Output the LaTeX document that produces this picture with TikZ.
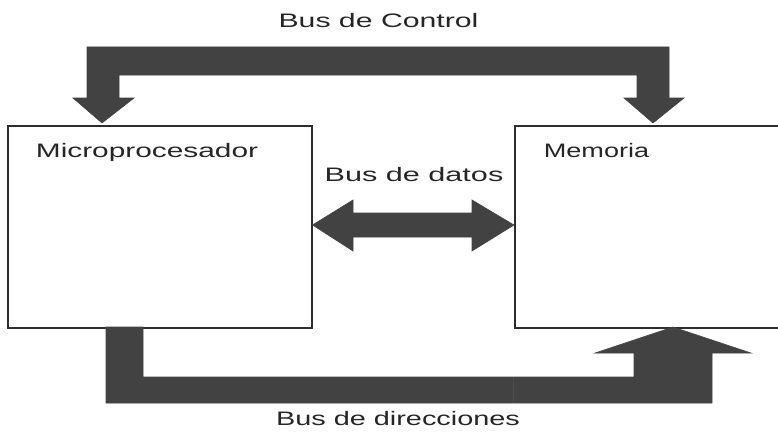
\documentclass[tikz,border=0pt]{standalone}
\usepackage{fontspec}
\setmainfont{Liberation Sans}
\definecolor{busgray}{RGB}{66,66,66}
\definecolor{edgegray}{RGB}{45,45,45}
\begin{document}
\begin{tikzpicture}[x=1pt,y=-1pt,
  unitbox/.style={draw=edgegray,line width=1.5pt,fill=white,anchor=north west,inner sep=0pt},
  bus/.style={fill=busgray,draw=busgray,line width=0.6pt,line join=miter},
  lbl/.style={font=\fontsize{19.5}{22}\selectfont,text=black!85,anchor=base,inner sep=0pt}]
\useasboundingbox (0,0) rectangle (778,436);
% boxes
\node[unitbox,minimum width=304pt,minimum height=202pt] (micro) at (7,125) {};
\node[unitbox,minimum width=280pt,minimum height=202pt] (mem) at (514,125) {};
% control bus
\draw[bus] (87,47) -- (669,47) -- (669,98) -- (684,98) -- (653,123) -- (624,98) -- (637,98)
  -- (637,75) -- (119,75) -- (119,98) -- (134,98) -- (102,123) -- (73,98) -- (87,98) -- cycle;
% data bus
\draw[bus] (micro.east |- 0,225) -- (353,200) -- (353,213) -- (472,213) -- (472,200)
  -- (mem.west |- 0,225) -- (472,251) -- (472,237) -- (353,237) -- (353,251) -- cycle;
% address bus
\draw[bus] (106,327) -- (143,327) -- (143,377) -- (634,377) -- (634,353) -- (595,353)
  -- (673,327) -- (751,353) -- (712,353) -- (712,403) -- (106,403) -- cycle;
\coordinate (seamtop) at (513,377);
\coordinate (seambot) at (513,403);
\draw[black!70,line width=0.8pt] (seamtop) -- (seambot);
% labels
\node[lbl,xscale=1.55] (lctrl) at (378.5,28) {Bus de Control};
\node[lbl,xscale=1.53] (lmicro) at (147,157) {Microprocesador};
\node[lbl,xscale=1.39] (lmem) at (596.5,157) {Memoria};
\node[lbl,xscale=1.57] (ldat) at (414,181) {Bus de datos};
\node[lbl,xscale=1.48] (ldir) at (398,425) {Bus de direcciones};
\end{tikzpicture}
\end{document}
